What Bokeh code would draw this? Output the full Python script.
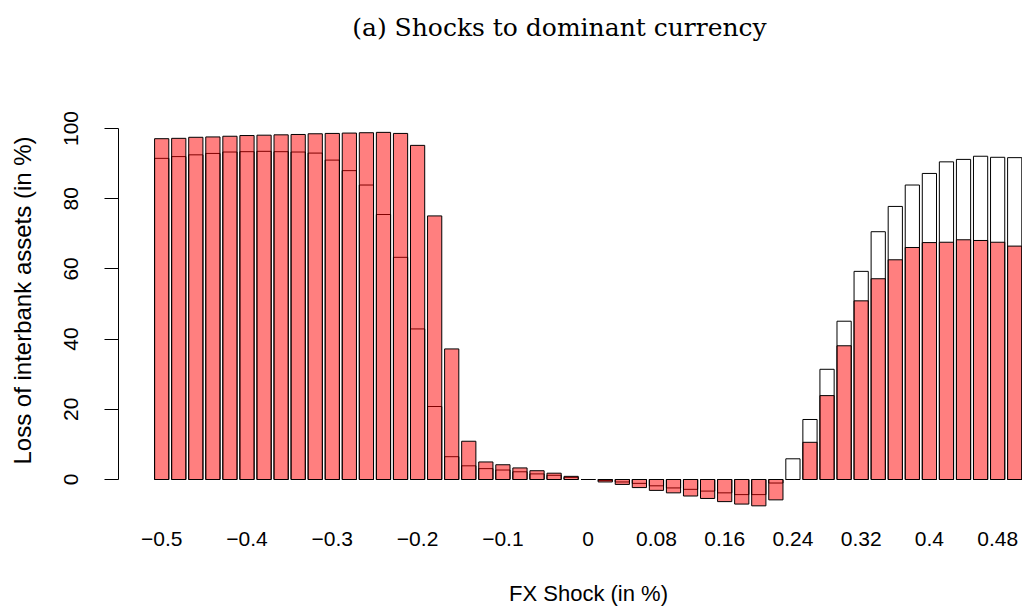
from bokeh.plotting import figure
from bokeh.layouts import column
from bokeh.models import Range1d, FixedTicker, ColumnDataSource
from bokeh.core.properties import value
from bokeh.embed import file_html
from bokeh.resources import INLINE

# ---- data -------------------------------------------------------------
# FX shock of each bar (in %), from -0.5 to 0.5 in steps of 0.02
shocks = [round(-0.5 + 0.02 * i, 2) for i in range(51)]

# first series (white bars, drawn first)
loss_first = [91.5, 92.0, 92.5, 92.9, 93.3, 93.4, 93.5, 93.4, 93.3, 93.0,
              91.0, 88.0, 83.9, 75.5, 63.3, 42.9, 20.8, 6.5, 3.9, 3.1,
              2.7, 2.2, 1.6, 1.2, 0.6, 0.0, -0.3, -0.7, -1.1, -1.8,
              -2.4, -2.8, -3.3, -3.8, -4.3, -4.3, -1.0, 5.9, 17.1, 31.4,
              45.1, 59.3, 70.6, 77.8, 83.9, 87.2, 90.5, 91.2, 92.1, 91.8,
              91.7]

# second series (translucent red bars, drawn on top)
loss_second = [97.1, 97.2, 97.5, 97.6, 97.8, 98.0, 98.1, 98.2, 98.3, 98.5,
               98.6, 98.7, 98.8, 98.9, 98.6, 95.2, 75.1, 37.2, 10.9, 5.0,
               4.2, 3.3, 2.5, 1.8, 0.9, 0.0, -0.7, -1.4, -2.3, -3.1,
               -3.8, -4.7, -5.4, -6.3, -7.0, -7.5, -5.8, 0.0, 10.6, 23.9,
               38.1, 50.9, 57.2, 62.6, 66.1, 67.5, 67.6, 68.3, 68.1, 67.6,
               66.5]

# x tick labels shown (the overlapping ones are dropped, as in R)
tick_shocks = [-0.5, -0.4, -0.3, -0.2, -0.1, 0.0, 0.08, 0.16, 0.24, 0.32, 0.4, 0.48]
tick_labels = ["\u22120.5", "\u22120.4", "\u22120.3", "\u22120.2", "\u22120.1",
               "0", "0.08", "0.16", "0.24", "0.32", "0.4", "0.48"]

y_ticks = [0, 20, 40, 60, 80, 100]

title_text = "(a) Shocks to dominant currency"
x_title = "FX Shock (in %)"
y_title = "Loss of interbank assets (in %)"

FONT = "Liberation Sans"
TICK_FS = "21px"

# ---- text strips (their frames are aligned with the chart frame) --------
def strip(h):
    f = figure(width=1022, height=h, x_range=Range1d(118, 1022), y_range=Range1d(0, h),
               x_axis_type=None, y_axis_type=None, title=None,
               output_backend="svg", toolbar_location=None,
               min_border=0, min_border_left=0, min_border_right=0,
               min_border_top=0, min_border_bottom=0)
    f.outline_line_color = None
    f.xgrid.visible = False
    f.ygrid.visible = False
    return f

top = strip(90)
top.text(x=[559], y=[63.5], text=[title_text], text_align="center",
         text_baseline="middle", text_font=value("DejaVu Serif"),
         text_font_size="25px", text_color="black")

# ---- main chart ---------------------------------------------------------
idx = list(range(len(shocks)))
src = ColumnDataSource(dict(x=idx, a=loss_first, b=loss_second))

p = figure(width=1022, height=470, title=None,
           x_range=Range1d(-2.532, 50.457), y_range=Range1d(-8.83, 110.83),
           output_backend="svg", toolbar_location=None,
           min_border_left=118, min_border_right=0,
           min_border_top=0, min_border_bottom=50)
p.outline_line_color = None
p.xgrid.visible = False
p.ygrid.visible = False

bw = 1 / 1.2
p.vbar(x="x", top="a", bottom=0, width=bw, source=src,
       fill_color="white", line_color="black", line_width=1)
p.vbar(x="x", top="b", bottom=0, width=bw, source=src,
       fill_color="#FF0000", fill_alpha=0.5, line_color="black", line_width=1)

ya = p.yaxis[0]
ya.ticker = FixedTicker(ticks=y_ticks)
ya.bounds = (0, 100)
ya.major_tick_out = 14
ya.major_tick_in = 0
ya.minor_tick_out = 0
ya.minor_tick_in = 0
ya.major_label_orientation = "parallel"
ya.major_label_standoff = 26
ya.major_label_text_font = FONT
ya.major_label_text_font_size = TICK_FS
ya.major_label_text_color = "black"
ya.axis_line_color = "black"
ya.major_tick_line_color = "black"
ya.axis_label = y_title
ya.axis_label_standoff = 26
ya.axis_label_text_font = FONT
ya.axis_label_text_font_size = "24px"
ya.axis_label_text_font_style = "normal"
ya.axis_label_text_color = "black"

xa = p.xaxis[0]
tick_idx = [shocks.index(round(s, 2)) for s in tick_shocks]
xa.ticker = FixedTicker(ticks=tick_idx)
xa.major_label_overrides = {i: lbl for i, lbl in zip(tick_idx, tick_labels)}
xa.axis_line_color = None
xa.major_tick_line_color = None
xa.minor_tick_line_color = None
xa.major_tick_out = 0
xa.major_tick_in = 0
xa.major_label_standoff = 21
xa.major_label_text_font = FONT
xa.major_label_text_font_size = TICK_FS
xa.major_label_text_color = "black"

# ---- x-axis title strip -----------------------------------------------
bottom = strip(47)
bottom.text(x=[588], y=[14], text=[x_title], text_align="center",
            text_baseline="middle", text_font=value(FONT),
            text_font_size="22px", text_color="black")

layout = column(top, p, bottom, spacing=0)
open("out.html", "w").write(file_html(layout, INLINE))
